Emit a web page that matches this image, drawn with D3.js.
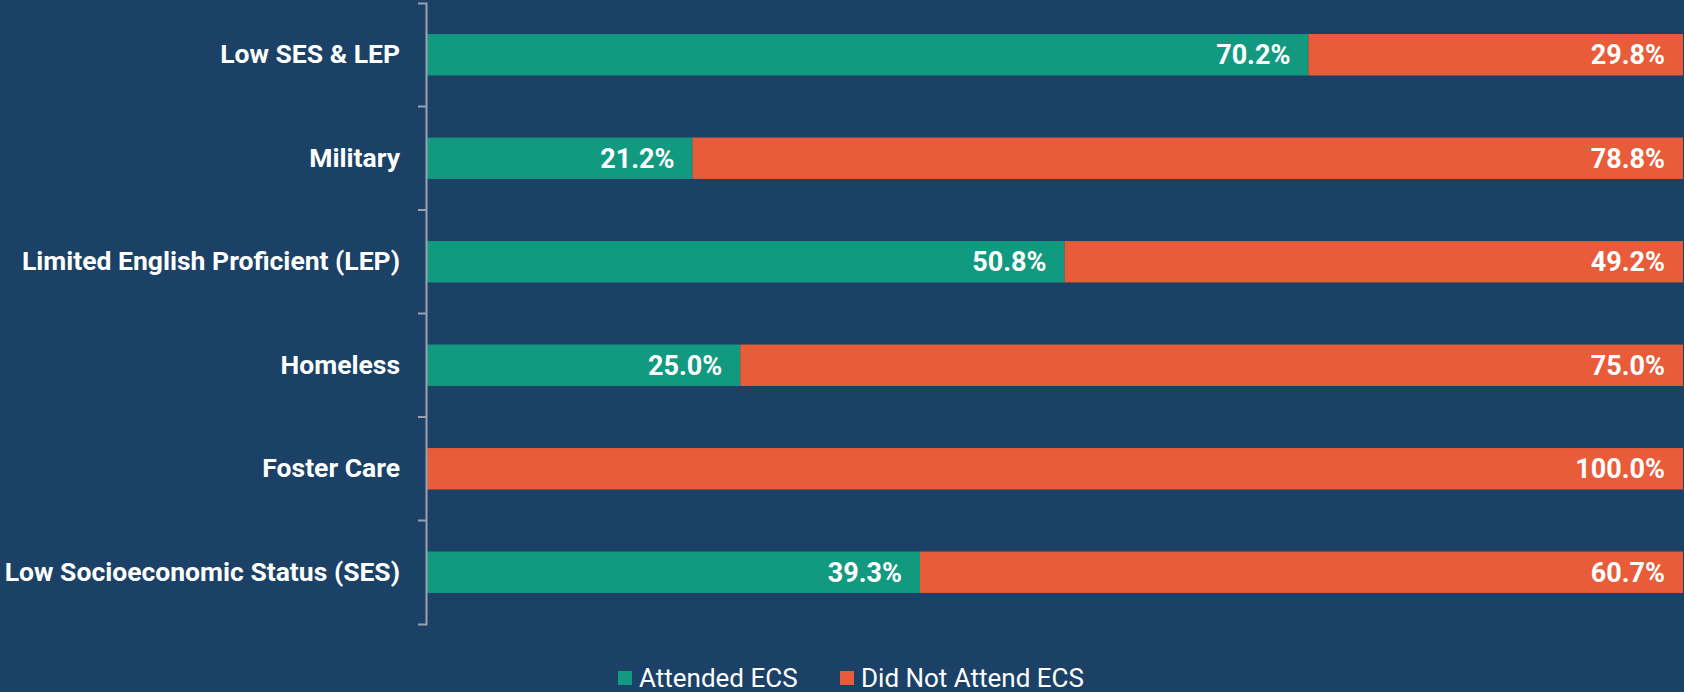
<!DOCTYPE html>
<html>
<head>
<meta charset="utf-8">
<script src="https://cdn.jsdelivr.net/npm/d3@7"></script>
<style>
  body { margin: 0; background: #1b4266; }
  svg { display: block; font-family: Roboto, "Noto Sans", sans-serif; }
</style>
</head>
<body>
<svg id="chart" width="1684" height="692"></svg>
<script>
// data
const categories = ['Low SES & LEP', 'Military', 'Limited English Proficient (LEP)', 'Homeless', 'Foster Care', 'Low Socioeconomic Status (SES)']
const attended = [70.2, 21.2, 50.8, 25.0, 0, 39.3]
const notAttended = [29.8, 78.8, 49.2, 75.0, 100.0, 60.7]
const seriesNames = ['Attended ECS', 'Did Not Attend ECS']
const colors = ['#129a80', '#e85c39']

const svg = d3.select('#chart')
const margin = {top: 3, left: 426, right: 1, bottom: 68}
const width = 1684 - margin.left - margin.right
const height = 692 - margin.top - margin.bottom

const g = svg.append('g').attr('transform', `translate(${margin.left},${margin.top})`)

// scales
const y = d3.scaleBand().domain(categories).range([0, height]).paddingInner(0.6).paddingOuter(0.3)
const x = d3.scaleLinear().domain([0, 100]).range([0, width])

// bars
const rows = categories.map((c, i) => ({cat: c, a: attended[i], n: notAttended[i]}))

const rowG = g.selectAll('g.row').data(rows).enter().append('g')
  .attr('class', 'row')
  .attr('transform', d => `translate(0,${y(d.cat)})`)

rowG.append('rect')
  .attr('x', 0).attr('y', 0)
  .attr('width', d => x(d.a)).attr('height', y.bandwidth())
  .attr('fill', colors[0])
rowG.append('rect')
  .attr('x', d => x(d.a)).attr('y', 0)
  .attr('width', d => x(d.a + d.n) - x(d.a)).attr('height', y.bandwidth())
  .attr('fill', colors[1])

// value labels
const valFmt = d3.format('.1f')
rowG.filter(d => d.a > 0).append('text')
  .attr('x', d => x(d.a) - 18).attr('y', y.bandwidth() / 2)
  .attr('dy', '0.35em').attr('text-anchor', 'end')
  .attr('fill', '#fff').attr('font-size', 27).attr('font-weight', 700)
  .text(d => valFmt(d.a) + '%')
rowG.append('text')
  .attr('x', d => x(d.a + d.n) - 18).attr('y', y.bandwidth() / 2)
  .attr('dy', '0.35em').attr('text-anchor', 'end')
  .attr('fill', '#fff').attr('font-size', 27).attr('font-weight', 700)
  .text(d => valFmt(d.n) + '%')

// y axis
const axisY = d3.axisLeft(y).tickSize(8).tickSizeOuter(8).tickPadding(18)
const ax = g.append('g').call(axisY)
ax.select('.domain').attr('stroke', '#9aa3ad').attr('stroke-width', 2)
ax.selectAll('.tick line').remove()
ax.selectAll('.tick text')
  .attr('fill', '#fff').attr('font-size', 26.5).attr('font-weight', 700)
  .attr('font-family', 'Roboto, sans-serif')
// ticks between bands
const step = y.step()
const bounds = d3.range(categories.length - 1).map(i => y(categories[i]) + y.bandwidth() + step * y.paddingInner() / 2)
ax.selectAll('line.sep').data(bounds).enter().append('line')
  .attr('x1', -8).attr('x2', 0).attr('y1', d => d).attr('y2', d => d)
  .attr('stroke', '#9aa3ad').attr('stroke-width', 2)

// legend
const legend = svg.append('g').attr('transform', 'translate(618,671)')
const items = legend.selectAll('g').data(seriesNames).enter().append('g')
  .attr('transform', (d, i) => `translate(${i * 222},0)`)
items.append('rect').attr('width', 14).attr('height', 14).attr('fill', (d, i) => colors[i])
items.append('text').attr('x', 21).attr('y', 7).attr('dy', '0.35em')
  .attr('fill', '#fff').attr('font-size', 26)
  .text(d => d)
</script>
</body>
</html>
